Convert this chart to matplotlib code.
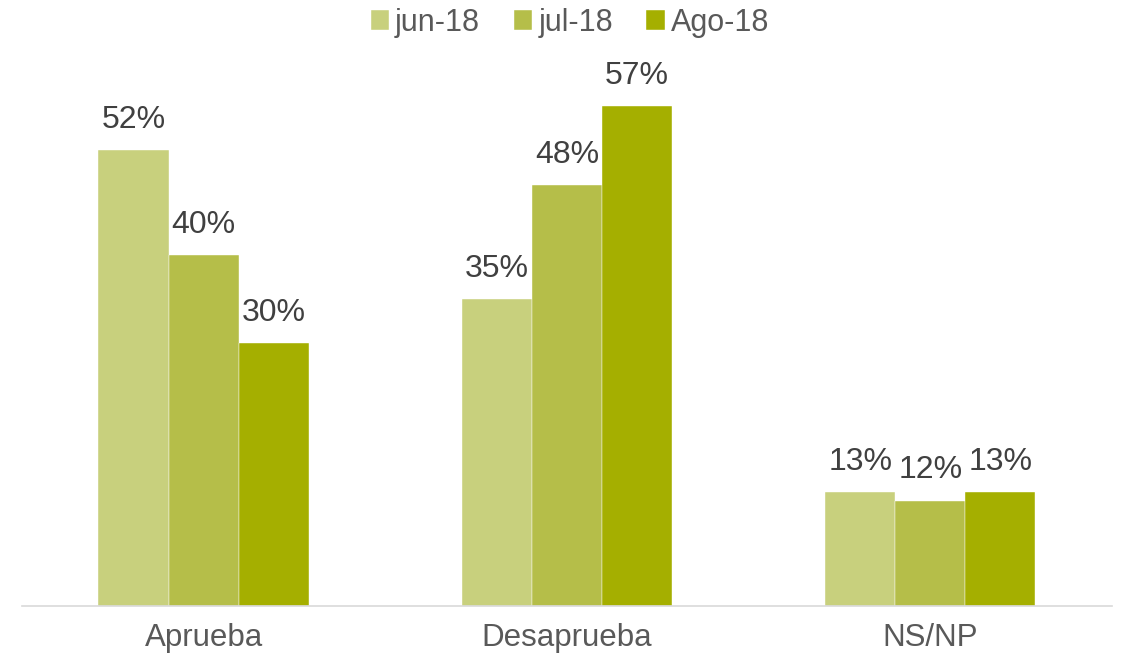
import matplotlib.pyplot as plt
import numpy as np

# data
categories = ['Aprueba', 'Desaprueba', 'NS/NP']
series = ['jun-18', 'jul-18', 'Ago-18']
jun = [52, 35, 13]
jul = [40, 48, 12]
ago = [30, 57, 13]
colors = ['#C8D07D', '#B5BE49', '#A5AF00']

plt.rcParams['font.family'] = ['Liberation Sans', 'DejaVu Sans']

fig = plt.figure(figsize=(11.22, 6.63), dpi=100)
ax = fig.add_axes([0.0196, 0.086, 0.9714, 0.7935])

x = np.arange(len(categories))
w = 0.193
for i, (vals, name) in enumerate(zip([jun, jul, ago], series)):
    bars = ax.bar(x + (i - 1) * w, vals, w, color=colors[i], label=name,
                  edgecolor='white', linewidth=0.3)
    for b, v in zip(bars, vals):
        ax.annotate(f'{v}%', (b.get_x() + b.get_width() / 2, v),
                    xytext=(0, 11), textcoords='offset points',
                    ha='center', va='bottom', fontsize=23, color='#404040')

ax.set_xlim(-0.5, 2.5)
ax.set_ylim(0, 60)
ax.set_xticks(x)
ax.set_xticklabels(categories, fontsize=22.5, color='#595959')
ax.tick_params(axis='x', length=0, pad=12)
ax.set_yticks([])
for s in ['top', 'right', 'left']:
    ax.spines[s].set_visible(False)
ax.spines['bottom'].set_color('#D9D9D9')
ax.spines['bottom'].set_linewidth(1.2)

leg = fig.legend(loc='upper center', bbox_to_anchor=(0.508, 1.03), ncol=3,
                 frameon=False, fontsize=22, handlelength=0.6, handleheight=0.6,
                 handletextpad=0.2, columnspacing=1.1)
for t in leg.get_texts():
    t.set_color('#595959')

plt.savefig('out.png', dpi=100)
